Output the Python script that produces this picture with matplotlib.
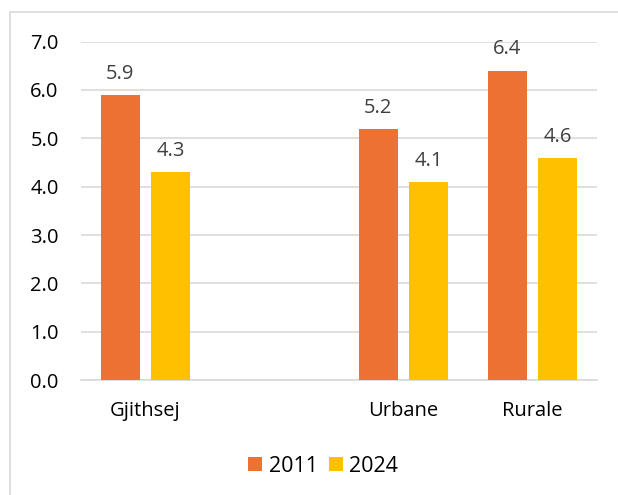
import matplotlib.pyplot as plt
import numpy as np
from matplotlib.patches import Rectangle

# andmed
kategooriad = ["Gjithsej", "", "Urbane", "Rurale"]
vaartused_2011 = [5.9, np.nan, 5.2, 6.4]
vaartused_2024 = [4.3, np.nan, 4.1, 4.6]
aastad = ["2011", "2024"]
y_margid = [0.0, 1.0, 2.0, 3.0, 4.0, 5.0, 6.0, 7.0]

plt.rcParams['font.family'] = ['Open Sans', 'DejaVu Sans']

fig = plt.figure(figsize=(6.18, 4.95), dpi=100)
ax = fig.add_axes([0.131, 0.232, 0.835, 0.684])

x = np.arange(len(kategooriad))
laius = 0.30
nihe = 0.195

b1 = ax.bar(x - nihe, vaartused_2011, laius, color="#ED7133", label=aastad[0], zorder=3)
b2 = ax.bar(x + nihe, vaartused_2024, laius, color="#FFC000", label=aastad[1], zorder=3)

for tulbad in (b1, b2):
    for t in tulbad:
        h = t.get_height()
        if np.isnan(h):
            continue
        ax.annotate(f"{h:.1f}", (t.get_x() + t.get_width() / 2, h),
                    xytext=(0, 8), textcoords="offset points",
                    ha="center", va="bottom", fontsize=14.5, color="#404040")

ax.set_xlim(-0.5, len(kategooriad) - 0.5)
ax.set_ylim(0, 7)
ax.set_yticks(y_margid)
ax.set_yticklabels([f"{v:.1f}" for v in y_margid])
ax.set_xticks(x)
ax.set_xticklabels(kategooriad)
ax.tick_params(axis="both", length=0, labelsize=14.5, colors="black")
ax.tick_params(axis="x", pad=15)
ax.tick_params(axis="y", pad=16)
ax.grid(axis="y", color="#D9D9D9", linewidth=1.2, zorder=0)
for s in ["top", "right", "left"]:
    ax.spines[s].set_visible(False)
ax.spines["bottom"].set_color("#D9D9D9")
ax.spines["bottom"].set_linewidth(1.2)

fig.legend(loc="center", bbox_to_anchor=(0.523, 0.058), ncol=2, frameon=False,
           fontsize=15.5, handlelength=0.65, handleheight=0.65,
           columnspacing=0.5, handletextpad=0.3)

# raam ümber joonise
fig.patches.append(Rectangle((10 / 618, -0.05), 1.0, 1 - 12 / 495 + 0.05,
                             transform=fig.transFigure, fill=False,
                             edgecolor="#D9D9D9", linewidth=1.2))

plt.savefig("out.png", dpi=100)
